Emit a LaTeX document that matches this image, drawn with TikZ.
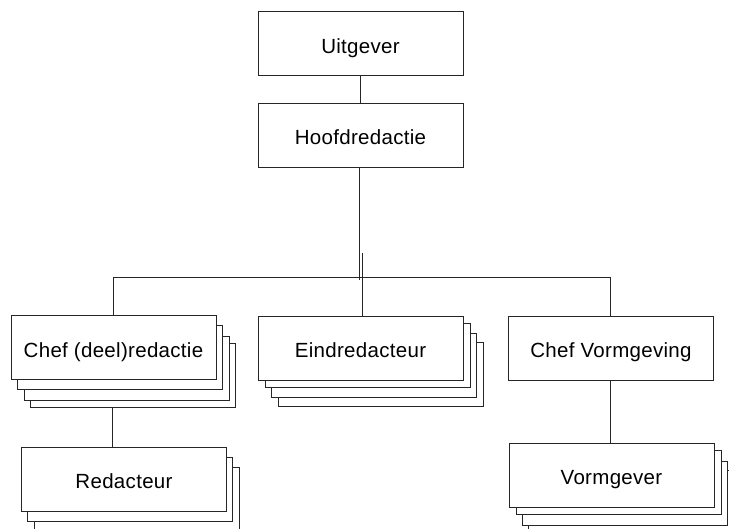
\documentclass[tikz,border=0pt]{standalone}
\usepackage{fontspec}
\setmainfont{Liberation Sans}[LetterSpace=1.5]
\usetikzlibrary{calc}
\tikzset{
  box/.style={draw=black!85, line width=1pt, fill=white,
    minimum width=205pt, minimum height=64pt, inner sep=0pt,
    text height=19pt, text depth=0pt,
    font=\fontsize{20.5}{24}\selectfont},
  sheet/.style={box},
  link/.style={draw=black!85, line width=1pt},
}
\begin{document}
\begin{tikzpicture}[x=1pt,y=-1pt]
\clip (0,0) rectangle (729,528);

% box centres
\coordinate (uitc)   at (360.5,43.5);
\coordinate (hoofc)  at (360.5,135);
\coordinate (chefc)  at (113.5,347.5);
\coordinate (eindc)  at (360.5,348);
\coordinate (chefvc) at (611,348);
\coordinate (redc)   at (124,479);
\coordinate (vormc)  at (611.5,475);

% stacked sheets behind the multi-person positions (deepest first)
\foreach \dx/\dy [count=\i] in {19.5/28, 13/21, 6.5/10}
  \node[sheet] (chef-\i) at ($(chefc)+(\dx,\dy)$) {};
\foreach \dx/\dy [count=\i] in {20/26, 13.5/17, 7/7.5}
  \node[sheet] (eind-\i) at ($(eindc)+(\dx,\dy)$) {};
\foreach \dx/\dy [count=\i] in {12.5/20, 6/10}
  \node[sheet] (red-\i) at ($(redc)+(\dx,\dy)$) {};
\foreach \dx/\dy [count=\i] in {19.5/27, 13/18, 7/7.5}
  \node[sheet] (vorm-\i) at ($(vormc)+(\dx,\dy)$) {};

% positions
\node[box] (uit)   at (uitc)   {Uitgever};
\node[box] (hoof)  at (hoofc)  {Hoofdredactie};
\node[box] (chef)  at (chefc)  {Chef (deel)redactie};
\node[box] (eind)  at (eindc)  {Eindredacteur};
\node[box] (chefv) at (chefvc) {Chef Vormgeving};
\node[box] (red)   at (redc)   {Redacteur};
\node[box] (vorm)  at (vormc)  {Vormgever};

% connectors
\coordinate (busL)    at (113,277);
\coordinate (busR)    at (610,277);
\coordinate (trunk)   at (359,280);
\coordinate (eindtop) at (362,253);
\coordinate (rlink)   at (112,0);

\draw[link] (uit) -- (hoof);
\draw[link] (hoof.south -| trunk) -- (trunk);
\draw[link] (busL) -- (busR);
\draw[link] (eindtop) -- (eindtop |- eind.north);
\draw[link] (busL) -- (busL |- chef.north);
\draw[link] (busR) -- (busR |- chefv.north);
\draw[link] (chef-1.south -| rlink) -- (red.north -| rlink);
\draw[link] (busR |- chefv.south) -- (busR |- vorm.north);
\end{tikzpicture}
\end{document}
